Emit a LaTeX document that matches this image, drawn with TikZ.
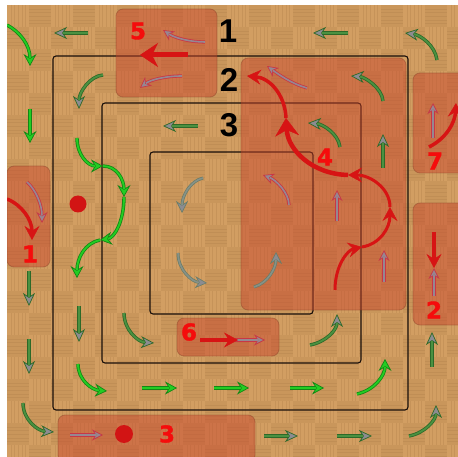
\documentclass[tikz,border=0pt]{standalone}
\usepackage{fontspec}
\usetikzlibrary{arrows.meta}
\newfontfamily\labfont{Liberation Sans}
\newfontfamily\numfont{DejaVu Sans Bold}[FakeBold=1.6]
\definecolor{woodA}{RGB}{210,158,98}
\definecolor{woodB}{RGB}{201,150,91}
\definecolor{woodLine}{RGB}{178,128,74}
\definecolor{boxfill}{RGB}{200,70,45}
\definecolor{boxline}{RGB}{120,50,30}
\definecolor{sqline}{RGB}{25,15,10}
\definecolor{gBright}{RGB}{35,205,35}
\definecolor{gBout}{RGB}{20,135,20}
\definecolor{gDark}{RGB}{75,145,65}
\definecolor{gDout}{RGB}{45,105,40}
\definecolor{grayH}{RGB}{140,140,145}
\definecolor{rRed}{RGB}{215,20,20}
\definecolor{pOut}{RGB}{200,55,70}
\definecolor{pIn}{RGB}{150,135,145}
\definecolor{gGin}{RGB}{135,145,135}
\definecolor{gGout}{RGB}{105,125,105}
\definecolor{numred}{RGB}{245,12,12}
\definecolor{dotred}{RGB}{210,20,20}
\tikzset{
 gbar/.style={draw=gBout,line width=3.4pt,-{Stealth[length=12pt,width=13pt,inset=4pt,fill=gBright,line width=0.7pt]},postaction={draw=gBright,line width=1.8pt,-,shorten >=8pt}},
 gdar/.style={draw=gDout,line width=3.4pt,-{Stealth[length=13pt,width=12pt,inset=4pt,fill=grayH,line width=0.7pt]},postaction={draw=gDark,line width=1.8pt,-,shorten >=9pt}},
 ggar/.style={draw=gGout,line width=3pt,-{Stealth[length=12pt,width=12pt,inset=4pt,fill=grayH,line width=0.6pt]},postaction={draw=gGin,line width=1.6pt,-,shorten >=8pt}},
 pgar/.style={draw=pOut,line width=3.2pt,-{Stealth[length=11pt,width=11pt,inset=3.5pt,fill=pIn,line width=0.7pt]},postaction={draw=pIn,line width=1.6pt,-,shorten >=7.5pt}},
 rar/.style={draw=rRed,line width=3.5pt,-{Stealth[length=14pt,width=15pt,inset=5pt,line width=0.5pt]}},
 rbig/.style={draw=rRed,line width=5pt,-{Stealth[length=18pt,width=24pt,inset=6pt,line width=0.5pt]}},
 boxst/.style={fill=boxfill,fill opacity=0.48,draw=boxline,draw opacity=0.35,line width=0.8pt,rounded corners=7pt},
 sqst/.style={draw=sqline,line width=1.1pt,rounded corners=3pt},
 blab/.style={font=\labfont\bfseries\fontsize{33}{33}\selectfont,text=black,inner sep=0pt},
 rlab/.style={font=\numfont\fontsize{23}{23}\selectfont,text=numred,inner sep=0pt},
 rdot/.style={fill=dotred}
}
\begin{document}
\begin{tikzpicture}[x=1pt,y=-1pt]
\useasboundingbox (0,0) rectangle (458,457);
\fill[white] (0,0) rectangle (458,457);
\begin{scope}
\clip (7,5) rectangle (458,457);
% parquet background
\foreach \i in {0,...,20}{
  \foreach \j in {0,...,20}{
    \pgfmathtruncatemacro\pp{mod(\i+\j,2)}
    \ifnum\pp=0
      \fill[woodA] (7+22*\i,5+22*\j) rectangle ++(22,22);
      \foreach \k in {3.7,7.3,11,14.7,18.3}
        \draw[woodLine,line width=0.35pt,opacity=0.35] (7+22*\i+\k,5+22*\j) -- ++(0,22);
    \else
      \fill[woodB] (7+22*\i,5+22*\j) rectangle ++(22,22);
      \foreach \k in {3.7,7.3,11,14.7,18.3}
        \draw[woodLine,line width=0.35pt,opacity=0.35] (7+22*\i,5+22*\j+\k) -- ++(22,0);
    \fi
  }
}
% nested squares
\draw[sqst] (53,56) rectangle (408,410);
\draw[sqst] (102,103) rectangle (361,363);
\draw[sqst] (150,152) rectangle (313,314);
% translucent boxes
\draw[boxst] (116,9) rectangle (217,97);
\draw[boxst] (7,166) rectangle (50,267);
\draw[boxst] (241,58) rectangle (406,310);
\draw[boxst] (413,73) rectangle (466,173);
\draw[boxst] (413,203) rectangle (466,325);
\draw[boxst] (177,318) rectangle (279,356);
\draw[boxst] (58,415) rectangle (255,462);
% ---- outer ring arrows
\draw[gbar] (7,25) .. controls (20,32) and (30,45) .. (30,66);
\draw[gbar] (30,109) -- (30,143);
\draw[gdar] (29,271) -- (29,306);
\draw[gdar] (29,339) -- (29,374);
\draw[gdar] (23,403) .. controls (23,420) and (38,431) .. (54,432);
\draw[gdar] (264,436) -- (298,436);
\draw[gdar] (337,436) -- (372,436);
\draw[gdar] (409,436) .. controls (425,433) and (436,420) .. (436,405);
\draw[gdar] (432,367) -- (432,332);
\draw[gdar] (437,60) .. controls (435,45) and (420,35) .. (405,33);
\draw[gdar] (348,33) -- (313,33);
\draw[gdar] (88,33) -- (54,33);
% ---- ring 2 arrows
\draw[gdar] (103,75) .. controls (90,76) and (79,92) .. (79,109);
\draw[gbar] (77,138) .. controls (77,155) and (88,166) .. (103,166);
\draw[gbar] (103,166) .. controls (117,166) and (124,180) .. (124,197);
\draw[gbar] (124,197) .. controls (124,222) and (114,238) .. (100,240);
\draw[gbar] (100,240) .. controls (85,243) and (77,258) .. (77,278);
\draw[gdar] (79,306) -- (79,342);
\draw[gbar] (78,364) .. controls (78,380) and (92,390) .. (107,391);
\draw[gbar] (142,388) -- (177,388);
\draw[gbar] (214,388) -- (249,388);
\draw[gbar] (290,388) -- (324,388);
\draw[gbar] (357,394) .. controls (375,390) and (385,375) .. (385,359);
\draw[gdar] (383,168) -- (383,134);
\draw[gdar] (383,101) .. controls (382,88) and (365,77) .. (351,76);
% ---- ring 3 arrows
\draw[gdar] (340,147) .. controls (338,133) and (322,124) .. (308,123);
\draw[gdar] (198,126) -- (163,126);
\draw[gdar] (124,313) .. controls (124,330) and (138,342) .. (154,343);
\draw[gdar] (310,345) .. controls (326,342) and (337,330) .. (337,314);
% ---- inner square arrows
\draw[ggar] (203,178) .. controls (190,181) and (182,196) .. (182,213);
\draw[ggar] (178,253) .. controls (178,270) and (192,282) .. (207,283);
\draw[ggar] (254,287) .. controls (268,283) and (276,268) .. (276,252);
% ---- box arrows (pink-gray)
\draw[pgar] (27,182) .. controls (36,190) and (42,205) .. (42,223);
\draw[pgar] (70,435) -- (103,435);
\draw[pgar] (205,42) .. controls (190,42) and (175,38) .. (163,30);
\draw[pgar] (182,76) .. controls (165,76) and (150,80) .. (140,88);
\draw[pgar] (307,88) .. controls (292,84) and (278,74) .. (267,66);
\draw[pgar] (289,205) .. controls (289,193) and (276,180) .. (263,175);
\draw[pgar] (337,221) -- (337,190);
\draw[pgar] (384,282) -- (384,250);
\draw[pgar] (434,296) -- (434,268);
\draw[pgar] (433,138) -- (433,103);
\draw[pgar] (235,340) -- (265,340);
% ---- red arrows
\draw[rar] (7,199) .. controls (22,205) and (32,220) .. (32,240);
\draw[rar] (434,232) -- (434,268);
\draw[rar] (429,147) .. controls (447,138) and (455,122) .. (456,103);
\draw[rbig] (188,55) -- (140,55);
\draw[rar] (200,340) -- (238,340);
\draw[rar,line width=3pt] (335,290) .. controls (335,265) and (348,250) .. (362,247);
\draw[rar,line width=3pt] (362,247) .. controls (380,244) and (390,228) .. (390,207);
\draw[rar,line width=3pt] (390,207) .. controls (390,188) and (370,175) .. (348,175);
\draw[rbig,line width=4.5pt] (348,175) .. controls (312,174) and (288,150) .. (286,118);
\draw[rar] (286,118) .. controls (285,95) and (270,78) .. (247,76);
% dots
\fill[rdot] (78,204) circle (8.5);
\fill[rdot] (124,434) circle (9);
% labels
\node[blab] (L1) at (228,31) {1};
\node[blab] (L2) at (229,80) {2};
\node[blab] (L3) at (229,125) {3};
\node[rlab] (N5) at (138,31) {5};
\node[rlab] (N1) at (30,254) {1};
\node[rlab] (N4) at (325,157) {4};
\node[rlab] (N7) at (435,161) {7};
\node[rlab] (N2) at (434,310) {2};
\node[rlab] (N6) at (189,332) {6};
\node[rlab] (N3) at (167,434) {3};
\end{scope}
\end{tikzpicture}
\end{document}
